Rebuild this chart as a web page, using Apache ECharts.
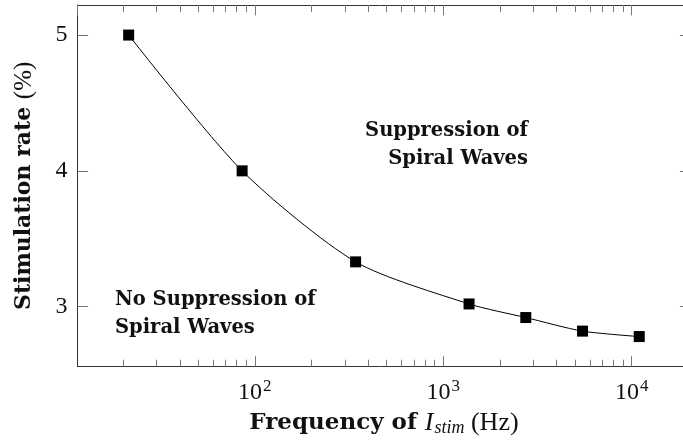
<!DOCTYPE html>
<html>
<head>
<meta charset="utf-8">
<script src="https://cdn.jsdelivr.net/npm/echarts@6/dist/echarts.min.js"></script>
<style>
  html, body { margin: 0; padding: 0; background: #fff; }
  #chart { width: 683px; height: 444px; }
</style>
</head>
<body>
<div id="chart"></div>
<script>
// ---- data ----
const xFreq = [21.4, 85.6, 342.5, 1370, 2740, 5480, 10960];
const yRate = [5.0, 4.0, 3.33, 3.02, 2.92, 2.82, 2.78];
const yTickValues = [3, 4, 5];
const xMinorTickValues = [20, 30, 40, 50, 60, 70, 80, 90,
                          200, 300, 400, 500, 600, 700, 800, 900,
                          2000, 3000, 4000, 5000, 6000, 7000, 8000, 9000];
const annotationUpper = ['Suppression of', 'Spiral Waves'];
const annotationLower = ['No Suppression of', 'Spiral Waves'];
const yAxisTitle = ['Stimulation rate', '(%)'];
const xAxisTitle = ['Frequency of', 'I', 'stim', '(Hz)'];

// ---- axis extents (10% enlargement like pgfplots) ----
const lx = xFreq.map(Math.log10);
const lxMin = Math.min(...lx), lxMax = Math.max(...lx);
const lxPad = 0.1 * (lxMax - lxMin);
const xMin = Math.pow(10, lxMin - lxPad), xMax = Math.pow(10, lxMax + lxPad);
const yMinD = Math.min(...yRate), yMaxD = Math.max(...yRate);
const yPad = 0.1 * (yMaxD - yMinD);
const yMin = yMinD - yPad, yMax = yMaxD + yPad;

const BOLD = '"DejaVu Serif"';
const REG = '"Liberation Serif"';
const AXIS_COLOR = '#333';
const TICK_COLOR = '#777';
const TXT = '#111';

const chart = echarts.init(document.getElementById('chart'), null, { renderer: 'canvas' });

const pairs = xFreq.map((x, i) => [x, yRate[i]]);

const option = {
  animation: false,
  backgroundColor: '#fff',
  grid: { left: 77.6, right: -7.3, top: 4.9, bottom: 77.3, containLabel: false, outerBoundsMode: 'none' },
  xAxis: [
    {
      type: 'log', logBase: 10, min: xMin, max: xMax, position: 'bottom',
      axisLine: { show: true, onZero: false, lineStyle: { color: AXIS_COLOR, width: 1 } },
      axisTick: { show: true, inside: true, length: 10.5, lineStyle: { color: TICK_COLOR, width: 1 } },
      splitLine: { show: false },
      axisLabel: {
        show: true, margin: 11, showMinLabel: false, showMaxLabel: false,
        formatter: v => '{n|10}{s|' + Math.round(Math.log10(v)) + '}',
        rich: {
          n: { fontFamily: REG, fontSize: 24, color: TXT },
          s: { fontFamily: REG, fontSize: 17, color: TXT, padding: [0, 0, 13, 1] }
        }
      },
      name: '{b|' + xAxisTitle[0] + ' }{i|' + xAxisTitle[1] + '}{sub|' + xAxisTitle[2] + '}{r| ' + xAxisTitle[3] + '}',
      nameLocation: 'middle', nameGap: 42,
      nameTextStyle: {
        rich: {
          b: { fontFamily: BOLD, fontWeight: 'bold', fontSize: 23, color: TXT },
          i: { fontFamily: REG, fontStyle: 'italic', fontSize: 26, color: TXT },
          sub: { fontFamily: REG, fontStyle: 'italic', fontSize: 18, color: TXT, padding: [11, 0, 0, 1] },
          r: { fontFamily: REG, fontSize: 26, color: TXT }
        }
      }
    },
    {
      type: 'log', logBase: 10, min: xMin, max: xMax, position: 'top',
      axisLine: { show: true, onZero: false, lineStyle: { color: AXIS_COLOR, width: 1 } },
      axisTick: { show: true, inside: true, length: 10.5, lineStyle: { color: TICK_COLOR, width: 1 } },
      axisLabel: { show: false }, splitLine: { show: false }
    },
    {
      type: 'value', min: Math.log10(xMin), max: Math.log10(xMax), position: 'bottom',
      axisLine: { show: false },
      axisTick: { show: true, inside: true, length: 7, customValues: xMinorTickValues.map(Math.log10),
                  lineStyle: { color: TICK_COLOR, width: 1 } },
      axisLabel: { show: false }, splitLine: { show: false }
    },
    {
      type: 'value', min: Math.log10(xMin), max: Math.log10(xMax), position: 'top',
      axisLine: { show: false },
      axisTick: { show: true, inside: true, length: 7, customValues: xMinorTickValues.map(Math.log10),
                  lineStyle: { color: TICK_COLOR, width: 1 } },
      axisLabel: { show: false }, splitLine: { show: false }
    }
  ],
  yAxis: [
    {
      type: 'value', min: yMin, max: yMax, position: 'left',
      axisLine: { show: true, onZero: false, lineStyle: { color: AXIS_COLOR, width: 1 } },
      axisTick: { show: true, inside: true, length: 10.5, customValues: yTickValues,
                  lineStyle: { color: TICK_COLOR, width: 1 } },
      axisLabel: { show: true, customValues: yTickValues, margin: 10,
                   fontFamily: REG, fontSize: 24, color: TXT },
      splitLine: { show: false },
      name: '{b|' + yAxisTitle[0] + ' }{r|' + yAxisTitle[1] + '}',
      nameLocation: 'middle', nameGap: 41,
      nameTextStyle: {
        rich: {
          b: { fontFamily: BOLD, fontWeight: 'bold', fontSize: 22, color: TXT },
          r: { fontFamily: REG, fontSize: 25, color: TXT }
        }
      }
    },
    {
      type: 'value', min: yMin, max: yMax, position: 'right',
      axisLine: { show: true, onZero: false, lineStyle: { color: AXIS_COLOR, width: 1 } },
      axisTick: { show: true, inside: true, length: 10.5, customValues: yTickValues,
                  lineStyle: { color: TICK_COLOR, width: 1 } },
      axisLabel: { show: false }, splitLine: { show: false }
    }
  ],
  series: [
    {
      type: 'line', xAxisIndex: 0, yAxisIndex: 0,
      data: pairs,
      smooth: 0.25,
      symbol: 'rect', symbolSize: 11,
      itemStyle: { color: '#000' },
      lineStyle: { color: '#000', width: 1 },
      z: 5
    }
  ],
  graphic: [
    {
      type: 'text', x: 528, y: 117, z: 10,
      style: {
        text: annotationUpper.join('\n'), align: 'right', verticalAlign: 'top',
        font: 'bold 19.5px ' + BOLD, lineHeight: 28, fill: TXT
      }
    },
    {
      type: 'text', x: 115, y: 285.5, z: 10,
      style: {
        text: annotationLower.join('\n'), align: 'left', verticalAlign: 'top',
        font: 'bold 19.5px ' + BOLD, lineHeight: 28, fill: TXT
      }
    }
  ]
};

chart.setOption(option);
</script>
</body>
</html>
